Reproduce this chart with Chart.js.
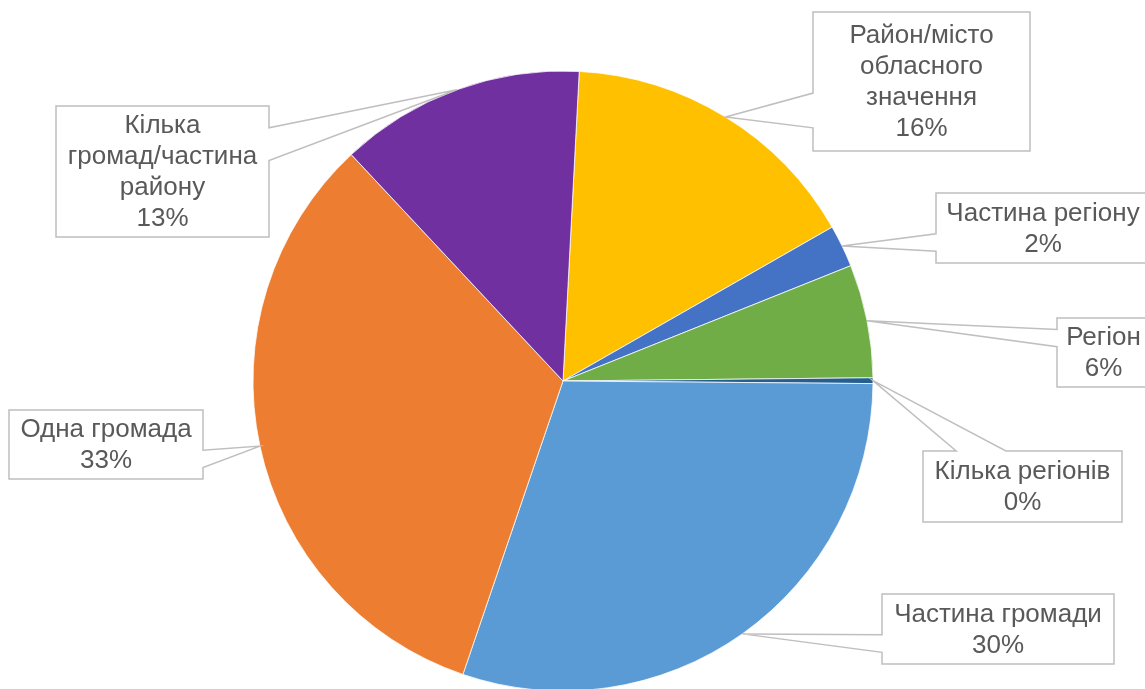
<!DOCTYPE html>
<html>
<head>
<meta charset="utf-8">
<script src="https://cdn.jsdelivr.net/npm/chart.js@4.4.0/dist/chart.umd.min.js"></script>
<style>
    html, body { margin: 0; padding: 0; background: #ffffff; overflow: hidden; }
    #wrap { width: 1145px; height: 689px; position: relative; }
</style>
</head>
<body>
<div id="wrap"><canvas id="myChart" width="1145" height="689"></canvas></div>
<script>
// Categories in drawing order (clockwise from the top)
const categories = [
    ['Район/місто', 'обласного', 'значення'],
    ['Частина регіону'],
    ['Регіон'],
    ['Кілька регіонів'],
    ['Частина громади'],
    ['Одна громада'],
    ['Кілька', 'громад/частина', 'району']
];

// Share of answers, %
const shares = [15.9, 2.2, 5.9, 0.3, 30.1, 32.8, 12.8];

const sliceColors = ['#FFC000', '#4472C4', '#70AD47', '#255E91', '#5B9BD5', '#ED7D31', '#7030A0'];

// Callout boxes: [left, top, width, height]
const calloutBoxes = [
    [813, 12, 217, 139],
    [936, 193, 214, 70],
    [1057, 318, 93, 69],
    [923, 451, 199, 71],
    [882, 594, 232, 70],
    [9, 410, 194, 69],
    [56, 106, 213, 131]
];

const FONT = '26px "Liberation Sans", Arial, sans-serif';
const LINE_H = 31;

// Excel-like wedge rectangle callout pointing at the slice edge
const calloutPlugin = {
    id: 'callouts',
    afterDatasetsDraw(chart) {
        const c = chart.ctx;
        const meta = chart.getDatasetMeta(0);
        const total = shares.reduce((a, b) => a + b, 0);

        meta.data.forEach((arc, i) => {
            const box = calloutBoxes[i];
            if (!box) return;
            const [x, y, w, h] = box;
            const mid = (arc.startAngle + arc.endAngle) / 2;
            const ax = arc.x + Math.cos(mid) * arc.outerRadius;
            const ay = arc.y + Math.sin(mid) * arc.outerRadius;

            const cx = x + w / 2, cy = y + h / 2;
            const dx = ax - cx, dy = ay - cy;
            const dq = dx * h / w;

            c.save();
            c.beginPath();
            if (Math.abs(dq) > Math.abs(dy)) {
                const y1 = y + h * (dy > 0 ? 7 : 2) / 12;
                const y2 = y + h * (dy > 0 ? 10 : 5) / 12;
                if (dx < 0) {
                    c.moveTo(x, y); c.lineTo(x + w, y); c.lineTo(x + w, y + h); c.lineTo(x, y + h);
                    c.lineTo(x, y2); c.lineTo(ax, ay); c.lineTo(x, y1);
                } else {
                    c.moveTo(x, y); c.lineTo(x + w, y); c.lineTo(x + w, y1); c.lineTo(ax, ay);
                    c.lineTo(x + w, y2); c.lineTo(x + w, y + h); c.lineTo(x, y + h);
                }
            } else {
                const x1 = x + w * (dx > 0 ? 7 : 2) / 12;
                const x2 = x + w * (dx > 0 ? 10 : 5) / 12;
                if (dy < 0) {
                    c.moveTo(x, y); c.lineTo(x1, y); c.lineTo(ax, ay); c.lineTo(x2, y);
                    c.lineTo(x + w, y); c.lineTo(x + w, y + h); c.lineTo(x, y + h);
                } else {
                    c.moveTo(x, y); c.lineTo(x + w, y); c.lineTo(x + w, y + h); c.lineTo(x2, y + h);
                    c.lineTo(ax, ay); c.lineTo(x1, y + h); c.lineTo(x, y + h);
                }
            }
            c.closePath();
            c.fillStyle = '#ffffff';
            c.fill();
            c.lineWidth = 1.5;
            c.strokeStyle = '#BFBFBF';
            c.stroke();

            const lines = categories[i].concat([Math.round(shares[i] / total * 100) + '%']);
            c.fillStyle = '#595959';
            c.font = FONT;
            c.textAlign = 'center';
            c.textBaseline = 'middle';
            const startY = cy - (lines.length - 1) * LINE_H / 2;
            lines.forEach((t, k) => c.fillText(t, cx, startY + k * LINE_H + 1));
            c.restore();
        });
    }
};

function initChart() {
    const ctx = document.getElementById('myChart');
    if (!ctx) {
        console.error('Canvas element not found');
        return;
    }
    new Chart(ctx, {
        type: 'pie',
        data: {
            labels: categories.map(l => l.join(' ')),
            datasets: [{
                data: shares,
                backgroundColor: sliceColors,
                borderColor: '#ffffff',
                borderWidth: 0.75,
                radius: 310
            }]
        },
        options: {
            responsive: false,
            animation: false,
            rotation: 3,
            layout: { padding: { top: 73, bottom: 0, left: 0, right: 19 } },
            plugins: {
                legend: { display: false },
                tooltip: { enabled: false },
                title: { display: false }
            }
        },
        plugins: [calloutPlugin]
    });
}

document.addEventListener('DOMContentLoaded', initChart);
</script>
</body>
</html>
